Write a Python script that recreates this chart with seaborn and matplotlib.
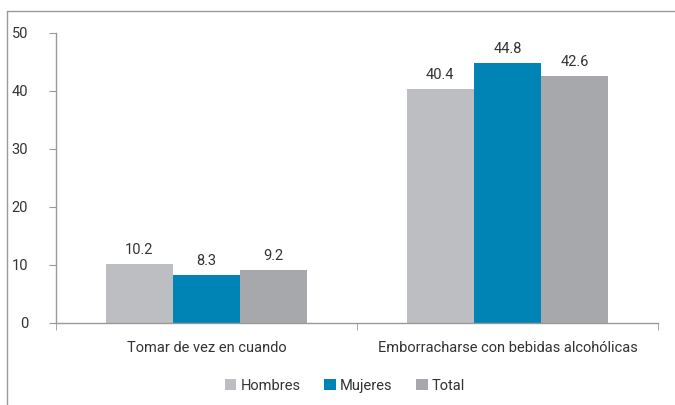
import matplotlib
matplotlib.use("Agg")
import matplotlib.pyplot as plt
from matplotlib.lines import Line2D
from matplotlib.ticker import FixedLocator
import seaborn as sns
import pandas as pd

categories = ["Tomar de vez en cuando", "Emborracharse con bebidas alcohólicas"]
series = ["Hombres", "Mujeres", "Total"]
hombres = [10.2, 40.4]
mujeres = [8.3, 44.8]
total = [9.2, 42.6]
colors = ["#BDBEC1", "#0083B5", "#A7A8AB"]

df = pd.DataFrame({
    "categoria": categories * 3,
    "serie": [s for s in series for _ in categories],
    "valor": hombres + mujeres + total,
})

sns.set_style("white")
plt.rcParams["font.family"] = ["Roboto", "DejaVu Sans"]

fig = plt.figure(figsize=(6.75, 4.05), dpi=100)
ax = fig.add_axes([56 / 675, 82 / 405, 602 / 675, 290 / 405])

sns.barplot(data=df, x="categoria", y="valor", hue="serie", order=categories,
            hue_order=series, palette=colors, width=0.67, saturation=1,
            edgecolor="none", ax=ax)

for cont in ax.containers:
    ax.bar_label(cont, fmt="%.1f", padding=5, fontsize=10.5, color="#333333")

ax.set_xlim(-0.5, 1.5)
ax.set_ylim(0, 50)
ax.set_yticks([0, 10, 20, 30, 40, 50])
ax.set_xlabel("")
ax.set_ylabel("")

for side in ["top", "right"]:
    ax.spines[side].set_visible(False)
for side in ["left", "bottom"]:
    ax.spines[side].set_color("#999999")
    ax.spines[side].set_linewidth(1)

ax.tick_params(axis="y", length=5, color="#999999", labelsize=10.5,
               labelcolor="#333333", pad=15, left=True)
ax.tick_params(axis="x", which="major", length=0, labelsize=10.5,
               labelcolor="#333333", pad=13)
ax.xaxis.set_minor_locator(FixedLocator([-0.5, 0.5, 1.5]))
ax.tick_params(axis="x", which="minor", length=5, color="#999999", bottom=True)

leg = ax.legend(loc="center", bbox_to_anchor=(0.48, -0.217), ncol=3,
                frameon=False, fontsize=10.5, handlelength=0.8, handleheight=0.8,
                columnspacing=1.6, handletextpad=0.3, borderaxespad=0)
for t in leg.get_texts():
    t.set_color("#333333")

# outer frame
fig.add_artist(Line2D([7 / 675, 7 / 675], [0, 1 - 11 / 405], transform=fig.transFigure,
                      color="#999999", lw=1))
fig.add_artist(Line2D([7 / 675, 1], [1 - 11 / 405, 1 - 11 / 405], transform=fig.transFigure,
                      color="#999999", lw=1))

fig.savefig("out.png", dpi=100)
